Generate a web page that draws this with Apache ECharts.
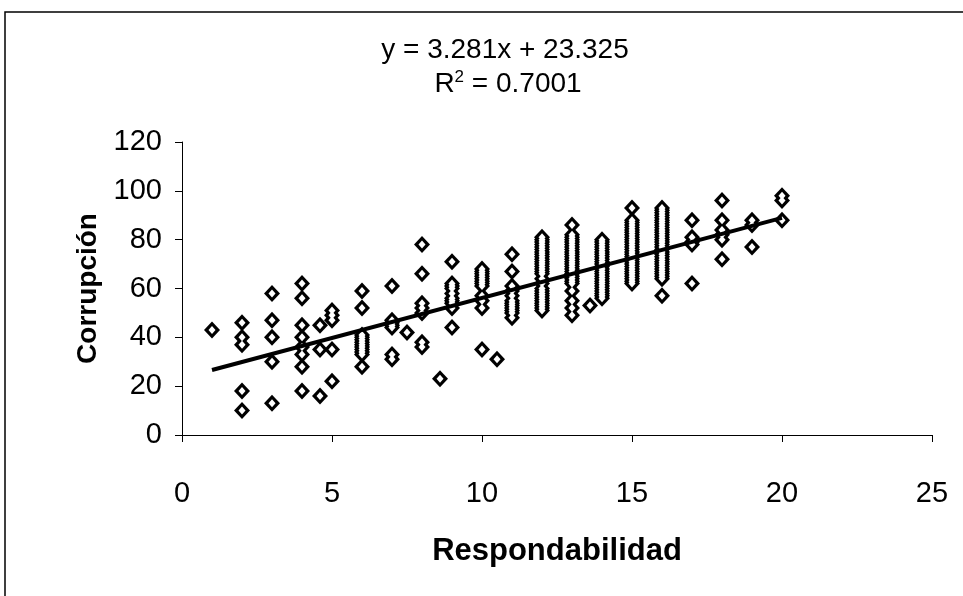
<!DOCTYPE html>
<html lang="es">
<head>
    <meta charset="UTF-8">
    <title>Corrupción vs Respondabilidad</title>
    <script src="https://cdn.jsdelivr.net/npm/echarts@6/dist/echarts.min.js"></script>
    <style>
        html, body { margin: 0; padding: 0; background: #fff; }
        #main { width: 963px; height: 596px; }
    </style>
</head>
<body>
<div id="main"></div>
<script type="text/javascript">
    // columnas de Respondabilidad y sus valores de Corrupción
    var respX = [1, 2, 3, 4, 4.6, 5, 6, 7, 7.5, 8, 8.6, 9, 10, 10.5, 11, 12, 13, 13.6, 14, 15, 16, 17, 18, 19, 20];
    var corrY = [
        [43],
        [46, 40, 37, 18, 10],
        [58, 47, 40, 30, 13],
        [62, 56, 45, 40, 36, 33, 28, 18],
        [45, 35, 16],
        [51, 49, 47, 35, 22],
        [59, 52, 41, 40, 39, 38, 37, 36, 35, 34, 33, 28],
        [61, 47, 46, 45, 44, 33, 31],
        [42],
        [78, 66, 54, 52, 50, 38, 36],
        [23],
        [71, 62, 61, 60, 58, 56, 55, 54, 52, 44],
        [68, 67, 66, 65, 64, 63, 62, 61, 57, 55, 52, 35],
        [31],
        [74, 67, 61, 59, 57, 55, 54, 53, 52, 51, 50, 48],
        [81, 80, 79, 78, 77, 76, 75, 74, 73, 72, 71, 70, 69, 68, 67, 66, 64, 62, 60, 59, 58, 57, 56, 55, 54, 53, 52, 51],
        [86, 82, 81, 80, 79, 78, 77, 76, 75, 74, 73, 72, 71, 70, 69, 68, 67, 66, 65, 64, 63, 62, 59, 55, 52, 49],
        [53],
        [80, 79, 78, 77, 76, 75, 74, 73, 72, 71, 70, 69, 68, 67, 66, 65, 64, 63, 62, 61, 60, 59, 58, 57, 56],
        [93, 88, 87, 86, 85, 84, 83, 82, 81, 80, 79, 78, 77, 76, 75, 74, 73, 72, 71, 70, 69, 68, 67, 66, 65, 64, 63, 62],
        [93, 92, 91, 90, 89, 88, 87, 86, 85, 84, 83, 82, 81, 80, 79, 78, 77, 76, 75, 74, 73, 72, 71, 70, 69, 68, 67, 66, 65, 64, 57],
        [88, 81, 79, 78, 62],
        [96, 88, 84, 82, 80, 72],
        [88, 86, 77],
        [98, 96, 88]
    ];
    // línea de tendencia (extremos)
    var trendX = [1, 20];
    var trendY = [26.6, 88.9];
    var xTicks = [0, 5, 10, 15, 20, 25];
    var yTicks = [0, 20, 40, 60, 80, 100, 120];

    var points = [];
    respX.forEach(function (x, i) {
        corrY[i].forEach(function (y) { points.push([x, y]); });
    });
    var trend = trendX.map(function (x, i) { return [x, trendY[i]]; });

    var font = 'Liberation Sans, Arial, sans-serif';
    var myChart = echarts.init(document.getElementById('main'));
    var option = {
        backgroundColor: '#fff',
        animation: false,
        textStyle: { fontFamily: font, color: '#000' },
        graphic: [{
            type: 'rect',
            shape: { x: 5, y: 12, width: 1000, height: 700 },
            style: { fill: 'none', stroke: '#000', lineWidth: 1.5 }
        }],
        title: [{
            text: 'y = 3.281x + 23.325',
            left: 500, top: 31, textAlign: 'center',
            textStyle: { fontFamily: font, fontSize: 28, fontWeight: 'normal', color: '#000' }
        }, {
            text: 'R{s|2} = 0.7001',
            left: 503, top: 64, textAlign: 'center',
            textStyle: {
                fontFamily: font, fontSize: 28, fontWeight: 'normal', color: '#000',
                rich: { s: { fontSize: 17, verticalAlign: 'top', padding: [0, 0, 13, 0], fontFamily: font, color: '#000' } }
            }
        }],
        grid: { left: 182, right: 31, top: 142, bottom: 161 },
        xAxis: {
            type: 'value', min: xTicks[0], max: xTicks[xTicks.length - 1], interval: 5,
            name: 'Respondabilidad', nameLocation: 'middle', nameGap: 101,
            nameTextStyle: { fontFamily: font, fontSize: 31, fontWeight: 'bold', color: '#000' },
            axisLine: { lineStyle: { color: '#000', width: 1 } },
            axisTick: { show: true, length: 7, lineStyle: { color: '#000' } },
            axisLabel: { fontFamily: font, fontSize: 29, color: '#000', margin: 44 },
            splitLine: { show: false }
        },
        yAxis: {
            type: 'value', min: yTicks[0], max: yTicks[yTicks.length - 1], interval: 20,
            name: 'Corrupción', nameLocation: 'middle', nameGap: 68, nameRotate: 90,
            nameTextStyle: { fontFamily: font, fontSize: 28, fontWeight: 'bold', color: '#000' },
            axisLine: { show: true, lineStyle: { color: '#000', width: 1 } },
            axisTick: { show: true, length: 7, lineStyle: { color: '#000' } },
            axisLabel: { fontFamily: font, fontSize: 29, color: '#000', margin: 20 },
            splitLine: { show: false }
        },
        series: [{
            // contorno negro de los rombos
            type: 'scatter',
            data: points,
            symbol: 'diamond',
            symbolSize: [16, 17],
            itemStyle: { color: '#000', opacity: 1 },
            z: 2
        }, {
            // interior blanco (fusiona los rombos superpuestos)
            type: 'scatter',
            data: points,
            symbol: 'diamond',
            symbolSize: [7, 8],
            itemStyle: { color: '#fff', opacity: 1 },
            silent: true,
            z: 3
        }, {
            type: 'line',
            data: trend,
            symbol: 'none',
            lineStyle: { color: '#000', width: 4 },
            z: 4
        }]
    };
    myChart.setOption(option);
</script>
</body>
</html>
